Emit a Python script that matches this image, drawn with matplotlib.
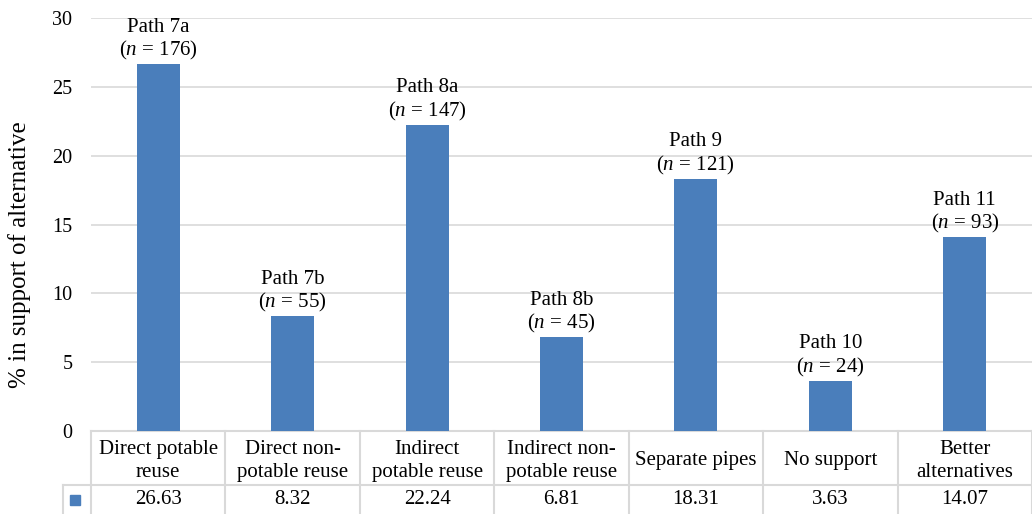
import matplotlib
matplotlib.use("Agg")
import matplotlib.pyplot as plt
from matplotlib.patches import Rectangle
from matplotlib.transforms import blended_transform_factory

plt.rcParams["font.family"] = "serif"
plt.rcParams["font.serif"] = ["Liberation Serif", "DejaVu Serif"]
plt.rcParams["mathtext.fontset"] = "custom"
plt.rcParams["mathtext.rm"] = "Liberation Serif"
plt.rcParams["mathtext.it"] = "Liberation Serif:italic"
plt.rcParams["font.size"] = 15

# ------------------------------------------------------------
categories = ["Direct potable\nreuse", "Direct non-\npotable reuse",
              "Indirect\npotable reuse", "Indirect non-\npotable reuse",
              "Separate pipes", "No support", "Better\nalternatives"]
values = [26.63, 8.32, 22.24, 6.81, 18.31, 3.63, 14.07]
paths = ["7a", "7b", "8a", "8b", "9", "10", "11"]
n_resp = [176, 55, 147, 45, 121, 24, 93]
y_ticks = [0, 5, 10, 15, 20, 25, 30]

BAR_COLOR = "#4A7EBB"
GRID_COLOR = "#D9D9D9"

W, H = 1032, 514
fig = plt.figure(figsize=(W / 100, H / 100), dpi=100)
ax = fig.add_axes([91 / W, (H - 431) / H, (W - 91) / W, (431 - 18) / H])

x = list(range(len(values)))
bars = ax.bar(x, values, width=0.32, color=BAR_COLOR, zorder=3)
ax.set_xlim(-0.5, len(values) - 0.5)
ax.set_ylim(0, 30)
ax.set_yticks(y_ticks)
ax.set_xticks([])
ax.tick_params(axis="y", length=0, pad=13.5, labelsize=14.5)
ax.grid(axis="y", color=GRID_COLOR, linewidth=1.2, zorder=0)
for s in ax.spines.values():
    s.set_visible(False)
fig.text(20 / W, 1 - 255 / H, "% in support of alternative", rotation=90,
         ha="center", va="center", fontsize=18)

for b, p, n in zip(bars, paths, n_resp):
    ax.annotate(f"Path {p}\n($n$ = {n})",
                (b.get_x() + b.get_width() / 2, b.get_height()),
                xytext=(0, 1.5), textcoords="offset points",
                ha="center", va="bottom", linespacing=1.15)

# data table beneath the axis
tr = blended_transform_factory(ax.transData, fig.transFigure)
y_top, y_mid, y_bot = (H - 431) / H, (H - 485) / H, 0.0
x_left, x_right = -0.5, len(values) - 0.5
x_key = x_left - 28 / ((W - 91) / len(values))
line_kw = dict(color=GRID_COLOR, linewidth=1.5, transform=tr, clip_on=False)
ax.plot([x_left, x_right], [y_top, y_top], **line_kw)
ax.plot([x_key, x_right], [y_mid, y_mid], **line_kw)
ax.plot([x_key, x_key], [y_mid, y_bot], **line_kw)
for xi in range(len(values) + 1):
    ax.plot([xi - 0.5, xi - 0.5], [y_top, y_bot], **line_kw)

cat_y = 1 - 461 / H
val_y = 1 - 500 / H
for xi, (cat, v) in enumerate(zip(categories, values)):
    ax.text(xi, cat_y, cat, transform=tr, ha="center",
            va="center", linespacing=1.3)
    ax.text(xi, val_y, f"{v:.2f}", transform=tr,
            ha="center", va="center")

key = Rectangle((70 / W, (H - 505) / H), 10 / W, 10 / H,
                transform=fig.transFigure, color=BAR_COLOR)
fig.patches.append(key)

fig.savefig("out.png", dpi=100)
